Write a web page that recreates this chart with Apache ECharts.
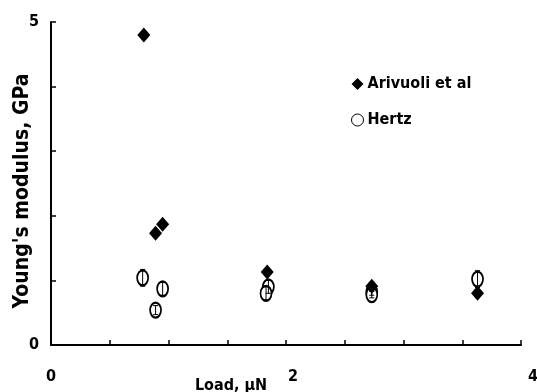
<!DOCTYPE html>
<html>
<head>
<meta charset="utf-8">
<script src="https://cdn.jsdelivr.net/npm/echarts@6/dist/echarts.min.js"></script>
<style>
  html, body { margin: 0; padding: 0; background: #fff; }
  #chart { width: 537px; height: 392px; }
</style>
</head>
<body>
<div id="chart"></div>
<script>
// Load (µN) and Young's modulus (GPa) for the two evaluation methods
var arivuoliLoad = [0.79, 0.89, 0.95, 1.84, 2.73, 3.63];
var arivuoliModulus = [4.80, 1.73, 1.87, 1.13, 0.91, 0.80];

var hertzLoad = [0.78, 0.95, 0.89, 1.85, 1.83, 2.73, 2.73, 3.63];
var hertzModulus = [1.04, 0.87, 0.54, 0.90, 0.80, 0.82, 0.78, 1.02];
var hertzError = [0.13, 0.10, 0.07, 0.10, 0.10, 0.05, 0.05, 0.13];

var xTickLabels = [0, 2, 4];
var yTickLabels = [0, 5];

var FONT = '"Liberation Sans Narrow", "DejaVu Sans Condensed", "Liberation Sans", Arial, sans-serif';

function zip(xs, ys) {
  return xs.map(function (x, i) { return [x, ys[i]]; });
}

var chart = echarts.init(document.getElementById('chart'), null, { renderer: 'canvas' });

chart.setOption({
  animation: false,
  backgroundColor: '#ffffff',
  grid: { left: 51, right: 16, top: 22, bottom: 47, containLabel: false, outerBoundsMode: 'none' },
  legend: {
    orient: 'vertical',
    left: 346,
    top: 71,
    itemGap: 20,
    itemWidth: 12,
    itemHeight: 12,
    textStyle: { fontFamily: FONT, fontWeight: 'bold', fontSize: 16, color: '#000', padding: [0, 0, 0, -1] },
    data: [
      { name: 'Arivuoli et al', icon: 'diamond', itemStyle: { color: '#000', opacity: 1 } },
      { name: 'Hertz', icon: 'circle', itemStyle: { color: '#fff', borderColor: '#000', borderWidth: 1, opacity: 1 } }
    ]
  },
  xAxis: {
    type: 'value',
    min: 0,
    max: 4,
    interval: 0.5,
    splitLine: { show: false },
    axisLine: { onZero: false, lineStyle: { color: '#000', width: 2 } },
    axisTick: { inside: true, length: 5, lineStyle: { color: '#000', width: 1.5 } },
    axisLabel: {
      margin: 24,
      fontFamily: FONT, fontWeight: 'bold', fontSize: 16, color: '#000',
      formatter: function (v) {
        if (v === xTickLabels[1]) return '{mid|' + v + '}';
        if (v === xTickLabels[2]) return '{end|' + v + '}';
        return v === xTickLabels[0] ? String(v) : '';
      },
      rich: {
        mid: { fontFamily: FONT, fontWeight: 'bold', fontSize: 16, color: '#000', padding: [0, 0, 0, 14] },
        end: { fontFamily: FONT, fontWeight: 'bold', fontSize: 16, color: '#000', padding: [0, 0, 0, 24] }
      }
    },
    name: 'Load, µN',
    nameLocation: 'middle',
    nameGap: 33,
    nameMoveOverlap: false,
    nameTextStyle: { fontFamily: FONT, fontWeight: 'bold', fontSize: 16, color: '#000', padding: [0, 110, 0, 0] }
  },
  yAxis: {
    type: 'value',
    min: 0,
    max: 5,
    interval: 1,
    splitLine: { show: false },
    axisLine: { onZero: false, lineStyle: { color: '#000', width: 2 } },
    axisTick: { inside: true, length: 5, lineStyle: { color: '#000', width: 1.5 } },
    axisLabel: {
      margin: 12,
      fontFamily: FONT, fontWeight: 'bold', fontSize: 16, color: '#000',
      formatter: function (v) { return yTickLabels.indexOf(v) >= 0 ? String(v) : ''; }
    },
    name: "Young's modulus, GPa",
    nameLocation: 'middle',
    nameGap: 18,
    nameMoveOverlap: false,
    nameTextStyle: { fontFamily: FONT, fontWeight: 'bold', fontSize: 21, color: '#000', padding: [0, 15, 0, 0] }
  },
  series: [
    {
      name: 'Hertz',
      type: 'scatter',
      symbol: 'emptyCircle',
      symbolSize: [11, 15],
      itemStyle: { color: '#000', borderColor: '#000', borderWidth: 1, opacity: 1 },
      data: zip(hertzLoad, hertzModulus),
      z: 2
    },
    {
      name: 'Hertz error',
      type: 'custom',
      renderItem: function (params, api) {
        var x = api.value(0), y = api.value(1), e = api.value(2);
        var hi = api.coord([x, y + e]);
        var lo = api.coord([x, y - e]);
        var w = 2.5;
        var style = { stroke: '#000', lineWidth: 1 };
        return {
          type: 'group',
          children: [
            { type: 'line', shape: { x1: hi[0], y1: hi[1], x2: lo[0], y2: lo[1] }, style: style },
            { type: 'line', shape: { x1: hi[0] - w, y1: hi[1], x2: hi[0] + w, y2: hi[1] }, style: style },
            { type: 'line', shape: { x1: lo[0] - w, y1: lo[1], x2: lo[0] + w, y2: lo[1] }, style: style }
          ]
        };
      },
      data: hertzLoad.map(function (x, i) { return [x, hertzModulus[i], hertzError[i]]; }),
      z: 3
    },
    {
      name: 'Arivuoli et al',
      type: 'scatter',
      symbol: 'diamond',
      symbolSize: [13, 15],
      itemStyle: { color: '#000', opacity: 1 },
      data: zip(arivuoliLoad, arivuoliModulus),
      z: 4
    }
  ]
});
</script>
</body>
</html>
